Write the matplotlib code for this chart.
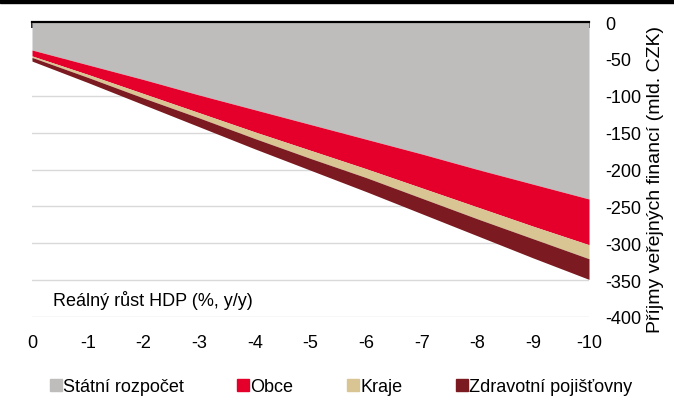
import numpy as np
import matplotlib.pyplot as plt
from matplotlib.patches import Rectangle
from matplotlib.lines import Line2D

plt.rcParams['font.family'] = ['Liberation Sans', 'DejaVu Sans']
plt.rcParams['axes.unicode_minus'] = False

# realny rust HDP (%, y/y) and revenue losses per budget level (mld. CZK)
gdp = [0, -1, -2, -3, -4, -5, -6, -7, -8, -9, -10]
statni = [-38, -58, -78, -99, -119, -139, -159, -179, -200, -220, -240]
obce = [-8, -13, -19, -24, -30, -35, -40, -46, -51, -57, -62]
kraje = [-2, -4, -6, -7, -9, -11, -12, -14, -16, -17, -19]
zp = [-5, -7, -9, -12, -14, -16, -19, -21, -23, -26, -28]

labels = ['Státní rozpočet', 'Obce', 'Kraje', 'Zdravotní pojišťovny']
colors = ['#bfbcbc', '#e4002b', '#d9c493', '#7b1a20']

fig = plt.figure(figsize=(6.74, 4.14), dpi=100)
ax = fig.add_axes([32 / 674, 1 - 318 / 414, (589 - 32) / 674, (318 - 23) / 414])

x = np.array(gdp)
series = [np.array(s) for s in (statni, obce, kraje, zp)]
bottom = np.zeros(len(x))
for s, c in zip(series, colors):
    top = bottom + s
    ax.fill_between(x, bottom, top, color=c, linewidth=0, zorder=2)
    bottom = top

ax.set_xlim(0, -10)
ax.set_ylim(-400, 0)
ax.set_xticks(gdp)
ax.set_xticklabels([str(g) for g in gdp])
ax.set_yticks(range(-400, 1, 50))

ax.grid(axis='y', color='#d9d9d9', linewidth=1, zorder=0)
ax.set_axisbelow(True)

for side in ['left', 'right', 'bottom']:
    ax.spines[side].set_visible(False)
ax.spines['top'].set_linewidth(1.6)
ax.spines['top'].set_zorder(5)

ax.tick_params(axis='x', top=True, bottom=False, labeltop=False, labelbottom=True,
               direction='in', length=4, width=1.2, pad=12, labelsize=13)
ax.yaxis.tick_right()
ax.tick_params(axis='y', length=0, pad=12, labelsize=13)
for t in ax.get_yticklabels():
    t.set_horizontalalignment('left')

fig.text(656 / 674, 1 - 180 / 414, 'Příjmy veřejných financí (mld. CZK)',
         rotation=90, fontsize=14, ha='center', va='center')

ax.text(0.037, 0.06, 'Reálný růst HDP (%, y/y)', transform=ax.transAxes,
        fontsize=13, va='center', ha='left')

handles = [Line2D([], [], marker='s', linestyle='none', markersize=8.5,
                  markerfacecolor=c, markeredgecolor=c) for c in colors]
fig.legend(handles, labels, loc='center', bbox_to_anchor=(0.505, 1 - 388 / 414),
           ncol=4, frameon=False, fontsize=13, handletextpad=0.0,
           columnspacing=2.9, handlelength=0.8)

fig.patches.append(Rectangle((0, 1 - 4 / 414), 1, 4 / 414, transform=fig.transFigure,
                             color='black', zorder=10))

fig.savefig('out.png', dpi=100)
